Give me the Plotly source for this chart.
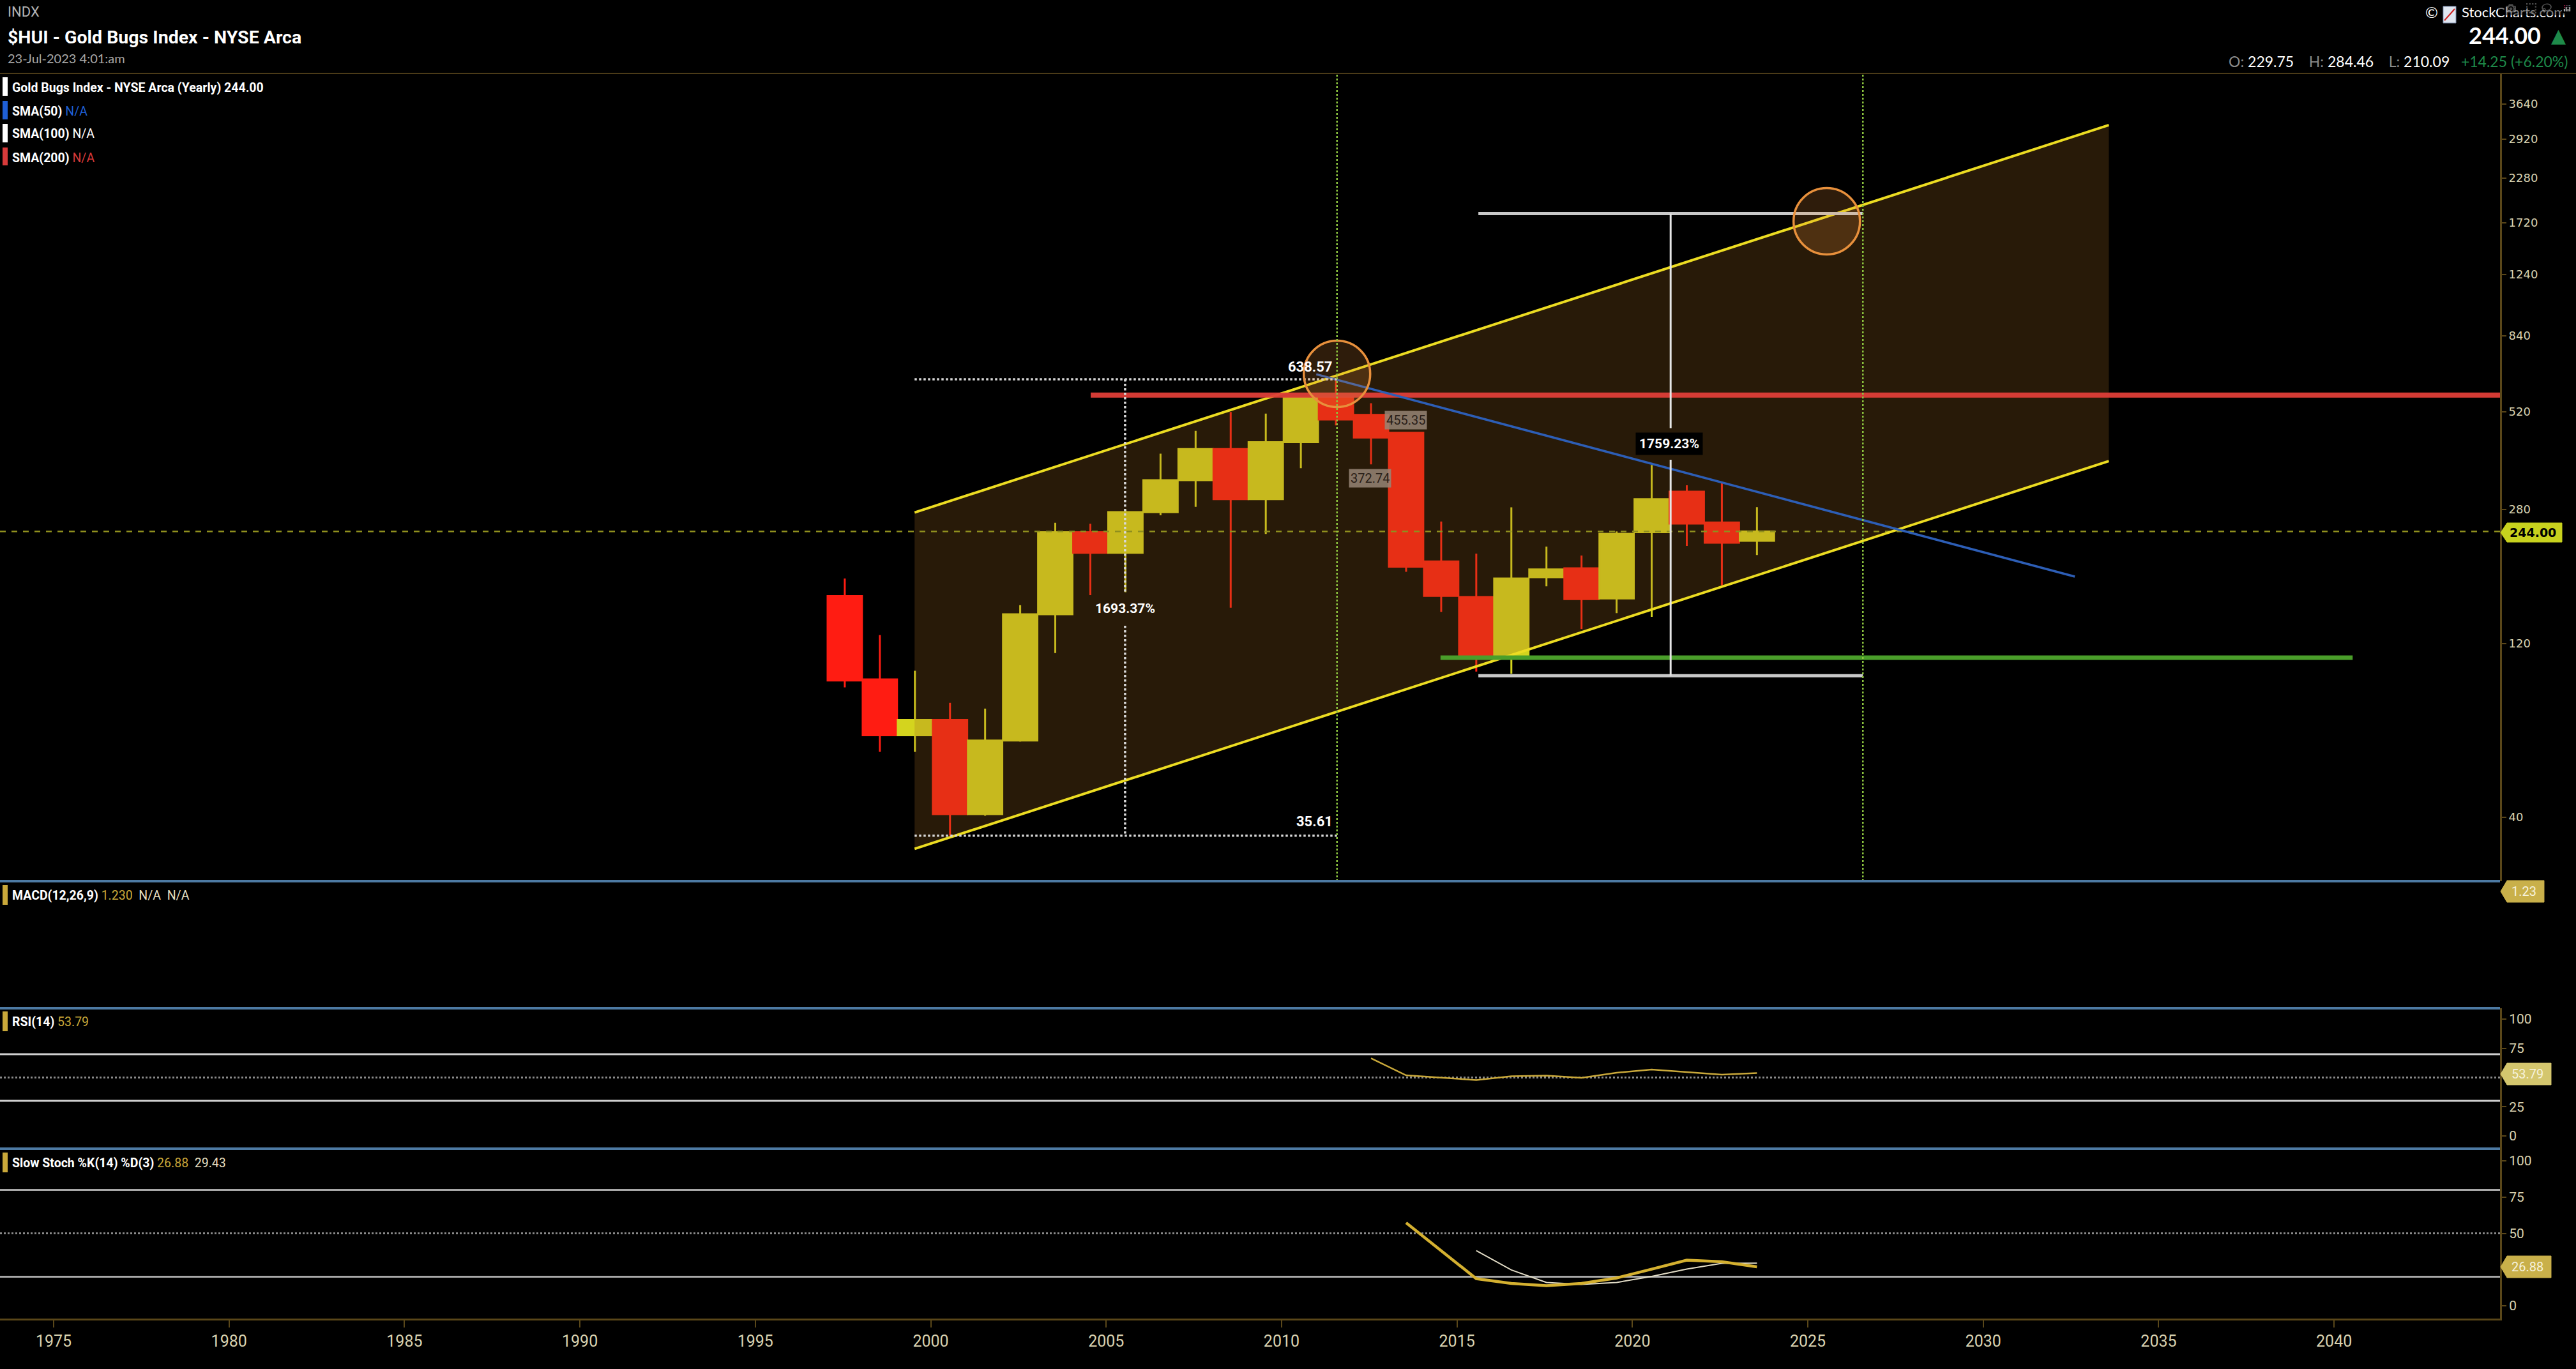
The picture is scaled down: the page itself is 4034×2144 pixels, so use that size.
import numpy as np
import plotly.graph_objects as go

W, H = 4034, 2144

# yearly candles
years = list(range(1997, 2024))
opens = [162, 95.7, 67.2, 74.0, 40.8, 65.0, 144.4, 242.7, 213, 275.6, 337.2, 410.5, 299,
         429, 568, 510, 455.35, 201.8, 161, 111.5, 182.5, 193.2, 159.6, 242.8, 313.7, 258, 229.75]
highs = [181, 126.7, 101, 82.5, 79.5, 153, 257.5, 256, 280, 399, 461, 519, 514,
         572, 638.57, 549, 455.35, 259.7, 212, 284, 221.6, 209.4, 244, 371.3, 326.6, 331, 284.46]
lows = [91, 60.5, 60.5, 35.61, 40.4, 64.5, 113, 163, 166, 270, 285, 150.6, 240,
        364, 477, 372.74, 189, 146.6, 100.5, 99.2, 172.3, 131.6, 145.5, 142.1, 222.5, 173.4, 210.09]
closes = [95, 67.2, 74.0, 40.8, 65.0, 144.4, 242.7, 213, 275.6, 337.2, 410.5, 299, 429,
          568, 495, 441.6, 195.1, 162.2, 111.5, 181, 191.8, 158.9, 240.2, 299.2, 256.3, 227, 244.00]

rsi_years = list(range(2012, 2024))
rsi_vals = [66.4, 51.9, 49.9, 47.8, 51.1, 51.6, 49.7, 54.1, 56.8, 54.6, 52.5, 53.79]

stoch_k_years = list(range(2013, 2024))
stoch_k = [57.3, 38.0, 18.7, 15.4, 13.9, 15.4, 19.2, 25.3, 31.5, 30.4, 26.88]
stoch_d_years = list(range(2015, 2024))
stoch_d = [38.1, 24.7, 16.1, 14.8, 16.1, 20.3, 25.3, 29.3, 29.43]

price_ticks = [40, 120, 280, 520, 840, 1240, 1720, 2280, 2920, 3640]
year_ticks = list(range(1975, 2041, 5))

# hand-drawn annotations on the price panel (data units)
channel_x = [1999.54, 2033.58]
channel_upper = [275.0, 3187.0]
channel_lower = [32.75, 380.7]
trend_x = [2010.99, 2032.61]
trend_y = [659.0, 183.3]
red_x = [2004.56, 2044.73]
red_level = 578
green_x = [2014.53, 2040.53]
green_level = 109.7
last_close = 244.00
peak_val, trough_val = 638.57, 35.61
meas1_x = [1999.54, 2005.54, 2011.58]
meas2_x = [2015.61, 2021.09, 2026.57]
meas2_low, meas2_high = 97.94, 1821.0
marker_years = [2011.58, 2026.57]
circle_x = [2011.58, 2025.54]
circle_y = [660.7, 1735.0]

X_RANGE = [1973.471, 2044.73]
OFF = 0.55  # candle centre inside its year

NARROW = "Roboto, sans-serif"
BROWN = "#5a4719"
BEIGE = "#d9d2b0"
GOLD = "#c9a83a"


def fx(p):
    return p / W


def fy(p):
    return 1 - p / H


x_right = 3915 / W
dom_price = [fy(1380), fy(115)]
dom_macd = [fy(1579), fy(1380)]
dom_rsi = [fy(1799), fy(1579)]
dom_stoch = [fy(2065), fy(1799)]

cx = [y + OFF for y in years]

fig = go.Figure()

fig.add_trace(go.Candlestick(
    x=cx, open=opens, high=highs, low=lows, close=closes,
    increasing=dict(fillcolor="#d4d41e", line=dict(color="#d4d41e", width=3)),
    decreasing=dict(fillcolor="#ff1c12", line=dict(color="#ff1c12", width=3)),
    whiskerwidth=0, hoverinfo="skip", xaxis="x", yaxis="y",
))

# channel fill (drawn over candles, translucent)
fig.add_trace(go.Scatter(
    x=[channel_x[0], channel_x[1], channel_x[1], channel_x[0]],
    y=[channel_upper[0], channel_upper[1], channel_lower[1], channel_lower[0]],
    fill="toself", fillcolor="rgba(160,104,32,0.25)", mode="none",
    hoverinfo="skip", yaxis="y",
))

def line(x, y, color, width, dash="solid", yaxis="y"):
    fig.add_trace(go.Scatter(x=x, y=y, mode="lines", hoverinfo="skip", yaxis=yaxis,
                             line=dict(color=color, width=width, dash=dash)))

line(X_RANGE, [last_close, last_close], "#8f8f1e", 2.5, "dash")
line(channel_x, channel_upper, "#ecdc22", 4)
line(channel_x, channel_lower, "#ecdc22", 4)
line(red_x, [red_level, red_level], "rgba(222,62,56,0.95)", 8)
line(green_x, [green_level, green_level], "#4a9e2a", 7)
line(trend_x, trend_y, "#2d5eb6", 3.5)

# measurement 1 (dotted)
line([meas1_x[0], meas1_x[2]], [peak_val, peak_val], "#d8d8d8", 3.5, "dot")
line([meas1_x[0], meas1_x[2]], [trough_val, trough_val], "#d8d8d8", 3.5, "dot")
line([meas1_x[1], meas1_x[1], None, meas1_x[1], meas1_x[1]],
     [peak_val, 165.8, None, 134.3, trough_val], "#d8d8d8", 3.5, "dot")

# measurement 2 (solid)
line([meas2_x[0], meas2_x[2]], [meas2_high, meas2_high], "#c8c8c8", 5)
line([meas2_x[0], meas2_x[2]], [meas2_low, meas2_low], "#c8c8c8", 5)
line([meas2_x[1], meas2_x[1], None, meas2_x[1], meas2_x[1]],
     [meas2_high, 468.8, None, 383.7, meas2_low], "#e6e6e6", 3)

fig.add_trace(go.Scatter(
    x=circle_x, y=circle_y, mode="markers", hoverinfo="skip", yaxis="y",
    marker=dict(symbol="circle", size=104, color="rgba(232,140,55,0.2)",
                line=dict(color="#e8903c", width=3.5)),
))

# RSI
line([y + OFF for y in rsi_years], rsi_vals, GOLD, 2.5, yaxis="y3")
# slow stochastics
line([y + OFF for y in stoch_d_years], stoch_d, "#e2dcc6", 2, yaxis="y4")
line([y + OFF for y in stoch_k_years], stoch_k, "#d4b030", 4.5, yaxis="y4")

shapes = []
for xv in marker_years:
    shapes.append(dict(type="line", xref="x", yref="y domain", x0=xv, x1=xv, y0=0, y1=1,
                       line=dict(color="#8dc63f", width=2.5, dash="dot")))
for lvl, col, dash in [(70, "#cfcfcf", "solid"), (30, "#cfcfcf", "solid"), (50, "#8a8a8a", "dot")]:
    shapes.append(dict(type="line", xref="paper", yref="y3", x0=0, x1=x_right, y0=lvl, y1=lvl,
                       layer="below", line=dict(color=col, width=3, dash=dash)))
for lvl, col, dash in [(80, "#a8a8a8", "solid"), (20, "#a8a8a8", "solid"), (50, "#8a8a8a", "dot")]:
    shapes.append(dict(type="line", xref="paper", yref="y4", x0=0, x1=x_right, y0=lvl, y1=lvl,
                       layer="below", line=dict(color=col, width=3, dash=dash)))
# panel separators
for yp in [1380, 1579, 1799]:
    shapes.append(dict(type="line", xref="paper", yref="paper", x0=0, x1=x_right,
                       y0=fy(yp), y1=fy(yp), line=dict(color="#4d7aa3", width=4)))
shapes.append(dict(type="line", xref="paper", yref="paper", x0=0, x1=1, y0=fy(115), y1=fy(115),
                   line=dict(color="#4b3b18", width=2)))

# legend swatches
for (y0, y1, col) in [(121, 150, "#ffffff"), (158, 187, "#1f5fd6"), (194, 223, "#ffffff"),
                      (231, 259, "#d83a3a"), (1386, 1417, GOLD), (1584, 1615, GOLD),
                      (1805, 1836, GOLD)]:
    shapes.append(dict(type="rect", xref="paper", yref="paper", x0=fx(4), x1=fx(12),
                       y0=fy(y1), y1=fy(y0), fillcolor=col, line=dict(width=0)))

# value tags on the right axis
def tag(yc, right, h, col):
    l, p = 3916, 10
    pts = [(l, yc), (l + p, yc - h / 2), (right, yc - h / 2), (right, yc + h / 2), (l + p, yc + h / 2)]
    path = "M " + " L ".join(f"{fx(a):.6f},{fy(b):.6f}" for a, b in pts) + " Z"
    shapes.append(dict(type="path", xref="paper", yref="paper", path=path,
                       fillcolor=col, line=dict(color=col, width=1)))

tag(834, 4012, 30, "#c8d21e")
tag(1396, 3984, 34, "#c9b04a")
tag(1682, 3995, 34, "#d4c66e")
tag(1984, 3995, 34, "#c9b04a")

ann = []


def text(x, y, s, size, color="#ffffff", family=NARROW, xanchor="left", **kw):
    ann.append(dict(xref="paper", yref="paper", x=fx(x), y=fy(y), text=s, showarrow=False,
                    xanchor=xanchor, yanchor="middle",
                    font=dict(size=size, color=color, family=family), **kw))


# header left
text(10, 18, "INDX", 22, "#b4b4b4", "Roboto, sans-serif")
text(10, 58, "<b>$HUI - Gold Bugs Index - NYSE Arca</b>", 28.5)
text(10, 91, "23-Jul-2023 4:01:am", 20, "#a8a8a8", "Lato, sans-serif")
text(17, 137, "<b>Gold Bugs Index - NYSE Arca (Yearly) 244.00</b>", 19.5)
text(17, 174, "<b>SMA(50)</b> <span style='color:#1f5fd6'>N/A</span>", 19.5)
text(17, 210, "<b>SMA(100)</b> N/A", 19.5)
text(17, 247, "<b>SMA(200)</b> <span style='color:#d83a3a'>N/A</span>", 19.5)

# header right
text(3808, 18, "©", 24, "#ffffff", "Lato, sans-serif", xanchor="center")
text(3853, 18, "StockCharts.com", 22, "#ffffff", "Lato, sans-serif", xanchor="left")
text(3981, 55, "<b>244.00</b>", 36, "#ffffff", "Lato, sans-serif", xanchor="right")
text(4020, 55, "▲", 30, "#1e8a4a", "DejaVu Sans", xanchor="right")
nb = "\u00a0"
text(4023, 96,
     f"<span style='color:#8a8a8a'>O:</span>{nb}229.75{nb*4}"
     f"<span style='color:#8a8a8a'>H:</span>{nb}284.46{nb*4}"
     f"<span style='color:#8a8a8a'>L:</span>{nb}210.09{nb*3}"
     f"<span style='color:#1e8a4a'>+14.25 (+6.20%)</span>",
     23, "#ffffff", "Lato, sans-serif", xanchor="right")
shapes.append(dict(type="rect", xref="paper", yref="paper", x0=fx(3826), x1=fx(3846),
                   y0=fy(36), y1=fy(10), fillcolor="#dfe6f0", line=dict(color="#8090b0", width=1)))
shapes.append(dict(type="line", xref="paper", yref="paper", x0=fx(3828), x1=fx(3844),
                   y0=fy(32), y1=fy(14), line=dict(color="#d02020", width=2)))

# panel titles
text(17, 1402, f"<b>MACD(12,26,9)</b> <span style='color:{GOLD}'>1.230</span>"
               f"{nb*2}<span style='color:#e6dfc0'>N/A{nb*2}N/A</span>", 19.5)
text(17, 1600, f"<b>RSI(14)</b> <span style='color:{GOLD}'>53.79</span>", 19.5)
text(17, 1821, f"<b>Slow Stoch %K(14) %D(3)</b> <span style='color:{GOLD}'>26.88</span>"
               f"{nb*2}<span style='color:#e6dfc0'>29.43</span>", 19.5)

# price labels on the chart
text(2052, 574, "<b>638.57</b>", 22, xanchor="center")
text(2058, 1286, "<b>35.61</b>", 22, xanchor="center")
text(1762, 953, "<b>1693.37%</b>", 21, xanchor="center")
text(2201, 658, "455.35", 20, "#2a2018", xanchor="center",
     bgcolor="rgba(150,134,118,0.85)", borderpad=2)
text(2145, 749, "372.74", 20, "#2a2018", xanchor="center",
     bgcolor="rgba(150,134,118,0.85)", borderpad=2)
text(2614, 695, "<b>1759.23%</b>", 21, xanchor="center", bgcolor="#000000", borderpad=5)

# axis tags text
text(3966, 834, "<b>244.00</b>", 19, "#000000", "DejaVu Sans", xanchor="center")
text(3952, 1396, "1.23", 20, "#f6f2dc", NARROW, xanchor="center")
text(3958, 1682, "53.79", 20, "#f6f2dc", NARROW, xanchor="center")
text(3958, 1984, "26.88", 20, "#f6f2dc", NARROW, xanchor="center")

axis_common = dict(showgrid=False, zeroline=False, showline=True, linecolor=BROWN, linewidth=3,
                   side="right", anchor="x", ticks="outside", ticklen=7, tickcolor=BROWN,
                   tickwidth=2, fixedrange=True)

fig.update_layout(
    width=W, height=H,
    margin=dict(l=0, r=0, t=0, b=0),
    paper_bgcolor="#000000", plot_bgcolor="#000000",
    showlegend=False,
    boxgap=0.02, boxgroupgap=0,
    xaxis=dict(domain=[0, x_right], range=X_RANGE, anchor="y4", tickvals=year_ticks,
               ticks="outside", ticklen=11, tickcolor=BROWN, tickwidth=2,
               showline=True, linecolor=BROWN, linewidth=3, showgrid=False, zeroline=False,
               tickfont=dict(family=NARROW, size=25, color=BEIGE),
               rangeslider=dict(visible=False), fixedrange=True),
    yaxis=dict(domain=dom_price, type="log", range=[1.4265, 3.6453], tickvals=price_ticks,
               ticktext=[str(t) for t in price_ticks],
               tickfont=dict(family="DejaVu Sans", size=18, color=BEIGE), **axis_common),
    yaxis2=dict(domain=dom_macd, range=[-1, 3], showticklabels=False, **axis_common),
    yaxis3=dict(domain=dom_rsi, range=[-10.93, 109.29], tickvals=[0, 25, 75, 100],
                tickfont=dict(family=NARROW, size=21, color=BEIGE), **axis_common),
    yaxis4=dict(domain=dom_stoch, range=[-8.81, 108.37], tickvals=[0, 50, 75, 100],
                tickfont=dict(family=NARROW, size=21, color=BEIGE), **axis_common),
    shapes=shapes,
    annotations=ann,
)

fig.write_html("out.html", post_script="document.body.style.margin='0';")
